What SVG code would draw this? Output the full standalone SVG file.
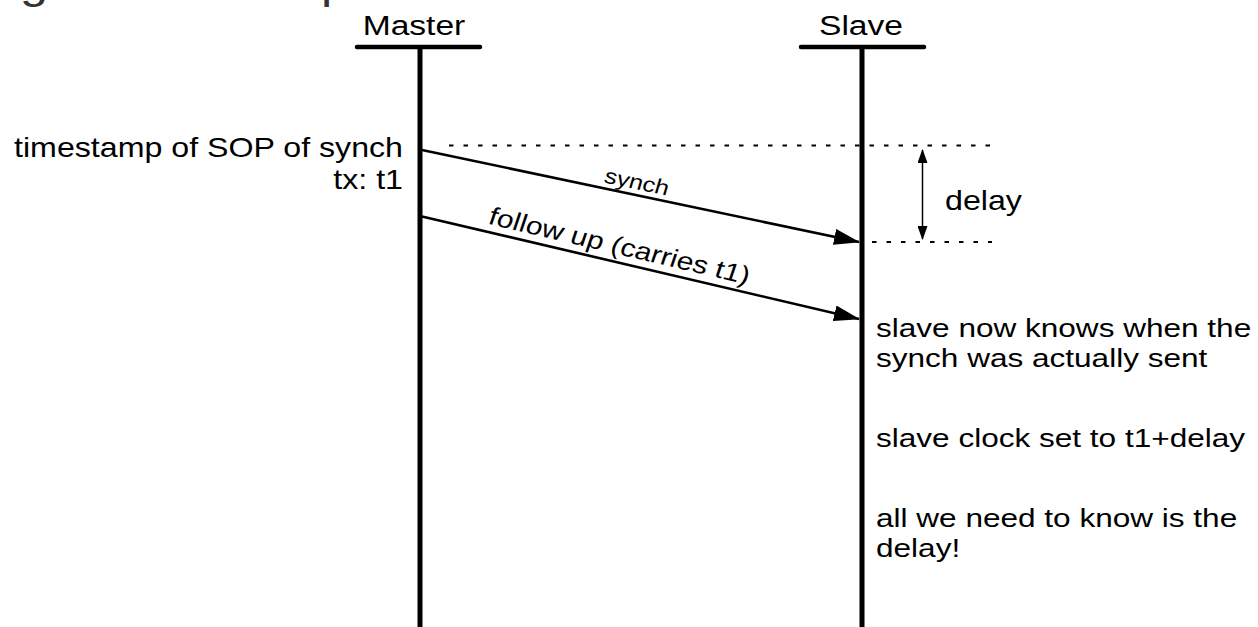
<svg xmlns="http://www.w3.org/2000/svg" width="1258" height="627" viewBox="0 0 1258 627">
  <style>
    .t { font-family: "Liberation Sans", Arial, Helvetica, sans-serif; font-size: 26.8px; fill: #000; }
    .r { font-size: 26.3px; }
    .hd { font-size: 28px; text-anchor: middle; }
    .title { font-family: "Liberation Sans", Arial, Helvetica, sans-serif; font-size: 42px; fill: #333; }
    .life { stroke: #000; stroke-width: 5; fill: none; }
    .bar { stroke: #000; stroke-width: 4.5; stroke-linecap: round; fill: none; }
    .msg { stroke: #000; stroke-width: 2.6; fill: none; }
    .dot { stroke: #000; stroke-width: 2; stroke-dasharray: 4.5 10; fill: none; }
    .dim { stroke: #000; stroke-width: 1.5; fill: none; }
  </style>
  <defs>
    <marker id="ah" viewBox="0 0 26 16" refX="25" refY="8" markerWidth="26" markerHeight="16" markerUnits="userSpaceOnUse" orient="auto">
      <path d="M0,0 L26,8 L0,16 Z" fill="#000"/>
    </marker>
    <marker id="sh" viewBox="0 0 14 10" refX="13" refY="5" markerWidth="14" markerHeight="10" markerUnits="userSpaceOnUse" orient="auto-start-reverse">
      <path d="M0,0 L14,5 L0,10 Z" fill="#000"/>
    </marker>
  </defs>
  <rect width="1258" height="627" fill="#fff"/>

  <!-- cut-off title fragments -->
  <g id="title">
    <text class="title" transform="translate(20,-2.5) scale(1.2,1)">g</text>
    <text class="title" transform="translate(321,-2.5) scale(1.2,1)">p</text>
  </g>

  <g id="master">
    <text class="t hd" transform="translate(414,35) scale(1.2,1)">Master</text>
    <line class="bar" x1="357" y1="47" x2="480" y2="47"/>
    <line class="life" x1="420" y1="47" x2="420" y2="627"/>
    <text class="t" text-anchor="end" transform="translate(403,157) scale(1.2,1)">timestamp of SOP of synch</text>
    <text class="t" text-anchor="end" transform="translate(403,189) scale(1.2,1)">tx: t1</text>
  </g>

  <g id="slave">
    <text class="t hd" transform="translate(861,35) scale(1.2,1)">Slave</text>
    <line class="bar" x1="801" y1="47" x2="924" y2="47"/>
    <line class="life" x1="862" y1="47" x2="862" y2="627"/>
    <text class="t r" transform="translate(876,337) scale(1.2,1)">slave now knows when the</text>
    <text class="t r" transform="translate(876,367) scale(1.2,1)">synch was actually sent</text>
    <text class="t r" transform="translate(876,447) scale(1.2,1)">slave clock set to t1+delay</text>
    <text class="t r" transform="translate(876,527) scale(1.2,1)">all we need to know is the</text>
    <text class="t r" transform="translate(876,557) scale(1.2,1)">delay!</text>
  </g>

  <g id="delay">
    <line class="dim" x1="922.5" y1="150" x2="922.5" y2="239" marker-start="url(#sh)" marker-end="url(#sh)"/>
    <text class="t" transform="translate(945,210) scale(1.2,1)">delay</text>
  </g>

  <g id="connectors">
    <line class="dot" x1="449" y1="145.5" x2="990" y2="145.5"/>
    <line class="dot" x1="872" y1="242" x2="992" y2="242"/>
    <line class="msg" x1="422" y1="150" x2="859" y2="242" marker-end="url(#ah)"/>
    <line class="msg" x1="422" y1="216.5" x2="859" y2="319" marker-end="url(#ah)"/>
    <text class="t" style="font-size:21px" text-anchor="middle" transform="translate(635,189) scale(1.2,1) rotate(14)">synch</text>
    <text class="t" style="font-size:25px" text-anchor="middle" transform="translate(617,254) scale(1.2,1) rotate(15.7)">follow up (carries t1)</text>
  </g>
</svg>
